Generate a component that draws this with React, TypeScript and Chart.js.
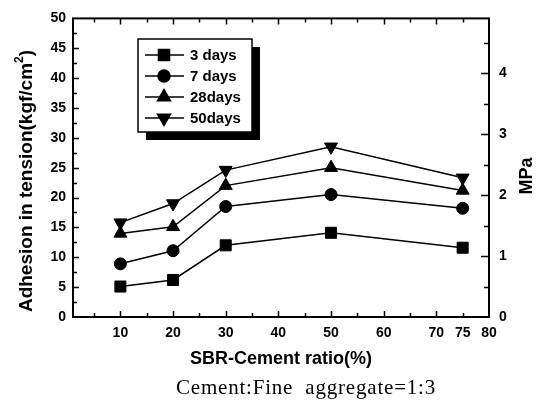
import React, { useEffect, useRef } from "react";
import { Chart, registerables } from "chart.js";
import { drawPoint } from "chart.js/helpers";

Chart.register(...registerables);

const ratios = [10, 20, 30, 50, 75];
const days3 = [5.1, 6.2, 12.0, 14.1, 11.6];
const days7 = [8.9, 11.1, 18.5, 20.5, 18.2];
const days28 = [14.0, 15.1, 22.0, 25.0, 21.2];
const days50 = [15.8, 19.0, 24.6, 28.5, 23.3];
const seriesLabels = ["3 days", "7 days", "28days", "50days"];
const xTickLabels = [10, 20, 30, 40, 50, 60, 70, 75, 80];
const yTickLabels = [0, 5, 10, 15, 20, 25, 30, 35, 40, 45, 50];
const mpaTickLabels = [0, 1, 2, 3, 4];

const FONT = "'Liberation Sans', Arial, sans-serif";

const markers = [
  { style: "rect", radius: 7.8, rotation: 0 },
  { style: "circle", radius: 6, rotation: 0 },
  { style: "triangle", radius: 7.5, rotation: 0 },
  { style: "triangle", radius: 7.5, rotation: 180 },
];

const decorPlugin = {
  id: "decor",
  afterDraw(chart: any) {
    const ctx = chart.ctx;
    const { left, right, top, bottom } = chart.chartArea;
    const xs = chart.scales.x;
    const ys = chart.scales.y;
    const y2 = chart.scales.y2;
    ctx.save();
    ctx.strokeStyle = "#000";
    ctx.lineWidth = 2;
    ctx.strokeRect(left, top, right - left, bottom - top);
    ctx.lineWidth = 1.5;
    for (let v = 5; v < 80; v += 5) {
      const px = Math.round(xs.getPixelForValue(v)) + 0.5;
      const len = v % 10 === 0 ? 6 : 4;
      ctx.beginPath();
      ctx.moveTo(px, bottom);
      ctx.lineTo(px, bottom - len);
      ctx.moveTo(px, top);
      ctx.lineTo(px, top + len);
      ctx.stroke();
    }
    for (let v = 2.5; v < 50; v += 2.5) {
      const py = Math.round(ys.getPixelForValue(v)) + 0.5;
      const len = v % 5 === 0 ? 6 : 4;
      ctx.beginPath();
      ctx.moveTo(left, py);
      ctx.lineTo(left + len, py);
      ctx.stroke();
    }
    for (let v = 0.5; v < 4.9; v += 0.5) {
      const py = Math.round(y2.getPixelForValue(v)) + 0.5;
      const len = Math.abs(v - Math.round(v)) < 0.01 ? 8 : 5;
      ctx.beginPath();
      ctx.moveTo(right, py);
      ctx.lineTo(right - len, py);
      ctx.stroke();
    }
    ctx.fillStyle = "#000";
    ctx.font = `bold 18px ${FONT}`;
    ctx.textAlign = "center";
    ctx.textBaseline = "middle";
    ctx.fillText("SBR-Cement ratio(%)", (left + right) / 2, 359);
    ctx.save();
    ctx.translate(27, 181);
    ctx.rotate(-Math.PI / 2);
    const main = "Adhesion in tension(kgf/cm";
    const sup = "2";
    const close = ")";
    ctx.font = `bold 19px ${FONT}`;
    const wMain = ctx.measureText(main).width;
    const wClose = ctx.measureText(close).width;
    ctx.font = `bold 12px ${FONT}`;
    const wSup = ctx.measureText(sup).width;
    const total = wMain + wSup + wClose;
    const x0 = -total / 2;
    ctx.textAlign = "left";
    ctx.font = `bold 19px ${FONT}`;
    ctx.fillText(main, x0, 0);
    ctx.font = `bold 12px ${FONT}`;
    ctx.fillText(sup, x0 + wMain, -7);
    ctx.font = `bold 19px ${FONT}`;
    ctx.fillText(close, x0 + wMain + wSup, 0);
    ctx.restore();
    ctx.save();
    ctx.translate(527, 176);
    ctx.rotate(-Math.PI / 2);
    ctx.textAlign = "center";
    ctx.font = `bold 18px ${FONT}`;
    ctx.fillText("MPa", 0, 0);
    ctx.restore();
    const bx = 138, by = 39, bw = 114, bh = 93;
    ctx.fillStyle = "#000";
    ctx.fillRect(bx + 8, by + 8, bw, bh);
    ctx.fillStyle = "#fff";
    ctx.fillRect(bx, by, bw, bh);
    ctx.strokeStyle = "#000";
    ctx.lineWidth = 1.5;
    ctx.strokeRect(bx, by, bw, bh);
    const rowY = [55, 76, 97, 118];
    ctx.font = `bold 15px ${FONT}`;
    ctx.textAlign = "left";
    ctx.textBaseline = "middle";
    for (let i = 0; i < 4; i++) {
      ctx.beginPath();
      ctx.moveTo(145, rowY[i]);
      ctx.lineTo(184, rowY[i]);
      ctx.lineWidth = 1.5;
      ctx.strokeStyle = "#000";
      ctx.stroke();
      ctx.fillStyle = "#000";
      drawPoint(
        ctx,
        {
          pointStyle: markers[i].style,
          radius: markers[i].radius,
          rotation: markers[i].rotation,
          borderWidth: 1,
        } as any,
        164,
        rowY[i]
      );
      ctx.fillStyle = "#000";
      ctx.fillText(seriesLabels[i], 190, rowY[i] + 1);
    }
    ctx.restore();
  },
};

export default function App() {
  const ref = useRef<HTMLCanvasElement | null>(null);
  useEffect(() => {
    document.body.style.margin = "0";
    const series = [days3, days7, days28, days50];
    const chart = new Chart(ref.current as HTMLCanvasElement, {
      type: "line",
      data: {
        datasets: series.map((s, i) => ({
          label: seriesLabels[i],
          data: ratios.map((r, j) => ({ x: r, y: s[j] })),
          borderColor: "#000",
          backgroundColor: "#000",
          borderWidth: 1.5,
          pointStyle: markers[i].style as any,
          pointRadius: markers[i].radius,
          pointRotation: markers[i].rotation,
          pointBackgroundColor: "#000",
          pointBorderColor: "#000",
          pointBorderWidth: 1,
          tension: 0,
        })),
      },
      options: {
        animation: false,
        responsive: false,
        maintainAspectRatio: false,
        layout: { padding: { top: 15, left: 0, right: 0, bottom: 0 } },
        plugins: { legend: { display: false }, tooltip: { enabled: false } },
        scales: {
          x: {
            type: "linear",
            min: 1,
            max: 80,
            afterBuildTicks: (s: any) => {
              s.ticks = xTickLabels.map((v) => ({ value: v }));
            },
            afterFit: (s: any) => {
              s.height = 92;
            },
            grid: { display: false, drawTicks: false },
            border: { display: false },
            ticks: {
              padding: 8,
              color: "#000",
              font: { family: FONT, size: 14, weight: "bold" },
              maxRotation: 0,
              autoSkip: false,
            },
          },
          y: {
            type: "linear",
            position: "left",
            min: 0,
            max: 50,
            afterBuildTicks: (s: any) => {
              s.ticks = yTickLabels.map((v) => ({ value: v }));
            },
            afterFit: (s: any) => {
              s.width = 73;
            },
            grid: { display: false, drawTicks: false },
            border: { display: false },
            ticks: {
              padding: 7,
              color: "#000",
              font: { family: FONT, size: 14, weight: "bold" },
            },
          },
          y2: {
            type: "linear",
            position: "right",
            min: 0,
            max: 4.9,
            afterBuildTicks: (s: any) => {
              s.ticks = mpaTickLabels.map((v) => ({ value: v }));
            },
            afterFit: (s: any) => {
              s.width = 50;
            },
            grid: { display: false, drawTicks: false },
            border: { display: false },
            ticks: {
              padding: 10,
              color: "#000",
              font: { family: FONT, size: 14, weight: "bold" },
            },
          },
        },
      },
      plugins: [decorPlugin],
    });
    return () => chart.destroy();
  }, []);
  return (
    <div style={{ position: "relative", width: 539, height: 409, background: "#fff" }}>
      <canvas ref={ref} width={539} height={409} style={{ display: "block" }} />
      <div
        style={{
          position: "absolute",
          left: 0,
          width: 539,
          top: 375,
          paddingLeft: 73,
          boxSizing: "border-box",
          textAlign: "center",
          fontFamily: "'Liberation Serif', 'Times New Roman', serif",
          fontSize: 21,
          letterSpacing: 0.8,
          whiteSpace: "pre",
          color: "#000",
        }}
      >
        {"Cement:Fine  aggregate=1:3"}
      </div>
    </div>
  );
}
